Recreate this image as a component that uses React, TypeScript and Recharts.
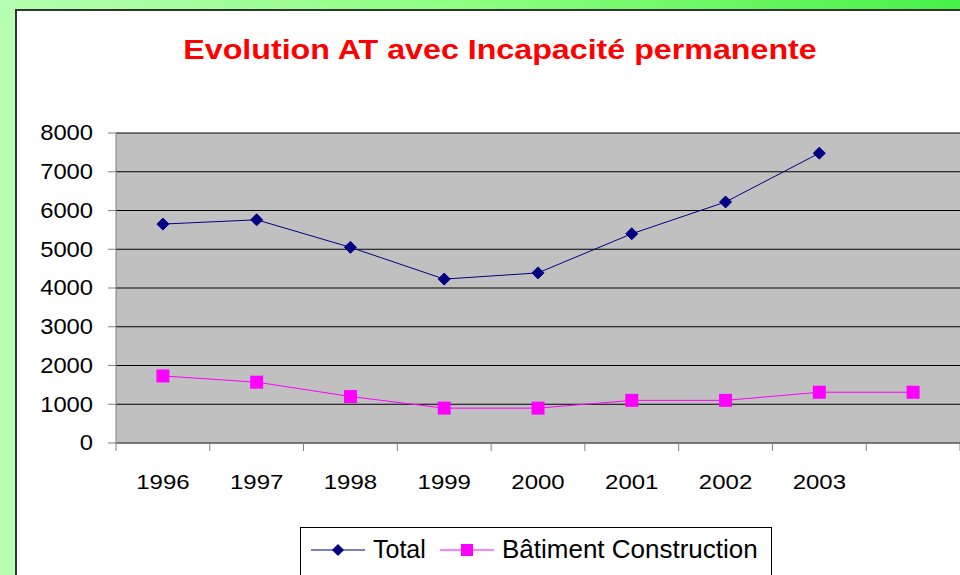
import { LineChart, Line, XAxis, YAxis, CartesianGrid, Legend } from "recharts";

const years = ["1996", "1997", "1998", "1999", "2000", "2001", "2002", "2003", ""];
const total = [5650, 5760, 5050, 4230, 4390, 5400, 6220, 7480, null];
const batiment = [1730, 1570, 1200, 900, 900, 1100, 1100, 1310, 1310];
const yTicks = [0, 1000, 2000, 3000, 4000, 5000, 6000, 7000, 8000];

const data = years.map((year, i) => ({
    year,
    total: total[i],
    batiment: batiment[i],
}));

const W = 960;
const H = 575;
const PLOT_LEFT = 116;
const BAND = (W - PLOT_LEFT) / years.length;

const Diamond = (props: any) => {
    const { cx, cy } = props;
    if (cx == null || cy == null || props.value == null) return null;
    const r = 6;
    return (
        <polygon
            points={`${cx},${cy - r} ${cx + r},${cy} ${cx},${cy + r} ${cx - r},${cy}`}
            fill="#000080"
            stroke="#000080"
        />
    );
};

const Square = (props: any) => {
    const { cx, cy } = props;
    if (cx == null || cy == null) return null;
    return <rect x={cx - 6.5} y={cy - 6.5} width={13} height={13} fill="#ff00ff" />;
};

// the original is stretched a bit sideways, so the texts get a scaleX
const YearTick = (props: any) => {
    const { x, y, payload, index } = props;
    return (
        <g>
            <line x1={x - BAND / 2} y1={y} x2={x - BAND / 2} y2={y + 8} stroke="#808080" />
            {index === years.length - 1 && (
                <line x1={x + BAND / 2} y1={y} x2={x + BAND / 2} y2={y + 8} stroke="#808080" />
            )}
            <text
                transform={`translate(${x},${y + 46}) scale(1.2,1)`}
                textAnchor="middle"
                fontSize={20}
                fill="#000"
            >
                {payload.value}
            </text>
        </g>
    );
};

const ValueTick = (props: any) => {
    const { x, y, payload } = props;
    return (
        <text
            transform={`translate(${x},${y}) scale(1.08,1)`}
            textAnchor="end"
            dy="0.33em"
            fontSize={22}
            fill="#000"
        >
            {payload.value}
        </text>
    );
};

const LegendBox = () => (
    <div
        style={{
            border: "1px solid #000",
            borderBottom: "none",
            height: 48,
            boxSizing: "border-box",
            background: "#fff",
            position: "relative",
        }}
    >
        <svg width={470} height={48} style={{ position: "absolute", left: 0, top: 0 }}>
            <line x1={10} y1={22} x2={64} y2={22} stroke="#000080" />
            <polygon points="37,16 43,22 37,28 31,22" fill="#000080" />
            <text x={72} y={30} fontSize={25} fill="#000">
                Total
            </text>
            <line x1={139} y1={22} x2={193} y2={22} stroke="#ff00ff" />
            <rect x={160} y={16} width={12} height={12} fill="#ff00ff" />
            <text transform="translate(201,30) scale(1.04,1)" fontSize={25} fill="#000">
                Bâtiment Construction
            </text>
        </svg>
    </div>
);

export default function App() {
    return (
        <div
            style={{
                position: "fixed",
                left: 0,
                top: 0,
                width: W,
                height: H,
                overflow: "hidden",
                background: "linear-gradient(90deg, #b4ffb0 0%, #8cff80 50%, #48f048 100%)",
                fontFamily: "Arial, 'Liberation Sans', sans-serif",
            }}
        >
            <div
                style={{
                    position: "absolute",
                    left: 8,
                    top: 0,
                    bottom: 0,
                    width: 7,
                    background: "#b4ffb0",
                }}
            />
            <div
                style={{
                    position: "absolute",
                    left: 15,
                    top: 9,
                    width: W,
                    height: H,
                    background: "#fff",
                    borderTop: "2px solid #333",
                    borderLeft: "2px solid #333",
                }}
            />
            <div
                style={{
                    position: "absolute",
                    left: 20,
                    top: 34,
                    width: 960,
                    textAlign: "center",
                    color: "#ff0000",
                    fontWeight: "bold",
                    fontSize: 28,
                    lineHeight: "32px",
                    transform: "scaleX(1.15)",
                    transformOrigin: "center",
                }}
            >
                Evolution AT avec Incapacité permanente
            </div>
            <div style={{ position: "absolute", left: 0, top: 0 }}>
                <LineChart
                    width={W}
                    height={H}
                    data={data}
                    margin={{ top: 133, right: 0, left: 0, bottom: 0 }}
                >
                    <CartesianGrid
                        vertical={false}
                        fill="#c0c0c0"
                        fillOpacity={1}
                        stroke="#000"
                        strokeOpacity={1}
                    />
                    <XAxis
                        dataKey="year"
                        height={84}
                        padding={{ left: BAND / 2, right: BAND / 2 }}
                        axisLine={{ stroke: "#808080" }}
                        tickLine={false}
                        tickSize={0}
                        tickMargin={0}
                        tick={<YearTick />}
                        interval={0}
                    />
                    <YAxis
                        width={PLOT_LEFT}
                        domain={[0, 8000]}
                        ticks={yTicks}
                        interval={0}
                        axisLine={{ stroke: "#808080" }}
                        tickLine={{ stroke: "#808080" }}
                        tickSize={8}
                        tickMargin={15}
                        tick={<ValueTick />}
                    />
                    <Legend
                        verticalAlign="bottom"
                        height={48}
                        content={<LegendBox />}
                        wrapperStyle={{ left: 300, width: 472, bottom: 0 }}
                    />
                    <Line
                        type="linear"
                        dataKey="total"
                        name="Total"
                        stroke="#000080"
                        strokeWidth={1}
                        dot={<Diamond />}
                        activeDot={false}
                        connectNulls={false}
                        isAnimationActive={false}
                    />
                    <Line
                        type="linear"
                        dataKey="batiment"
                        name="Bâtiment Construction"
                        stroke="#ff00ff"
                        strokeWidth={1}
                        dot={<Square />}
                        activeDot={false}
                        isAnimationActive={false}
                    />
                </LineChart>
            </div>
        </div>
    );
}
